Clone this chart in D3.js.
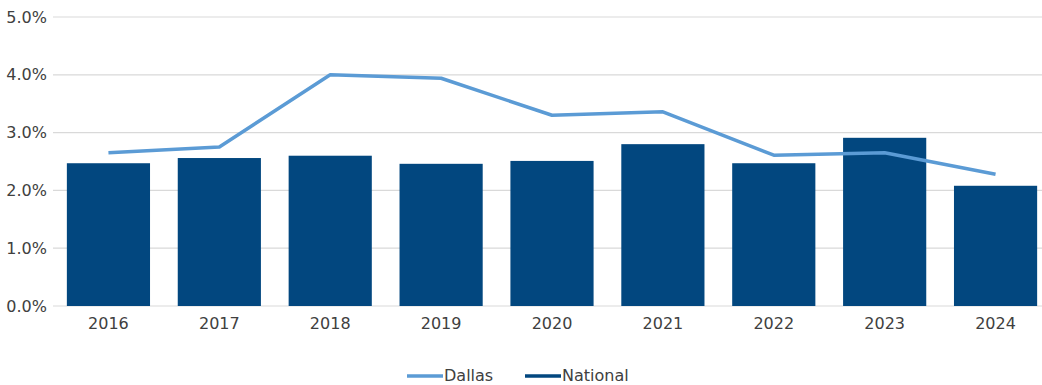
<!DOCTYPE html>
<html>
<head>
<meta charset="utf-8">
<script src="https://cdn.jsdelivr.net/npm/d3@7"></script>
<style>
  body { margin: 0; background: #fff; }
  text { font-family: "DejaVu Sans", sans-serif; fill: #404040; }
</style>
</head>
<body>
<div id="viz"></div>
<script>
var width = 1042, height = 385;

// data
var years = ["2016", "2017", "2018", "2019", "2020", "2021", "2022", "2023", "2024"];
var national = [2.47, 2.56, 2.60, 2.46, 2.51, 2.80, 2.47, 2.91, 2.08];
var dallas = [2.65, 2.75, 4.00, 3.94, 3.30, 3.36, 2.61, 2.65, 2.28];
var yTicks = [0, 1, 2, 3, 4, 5];

var svg = d3.select("#viz")
  .append("svg")
    .attr("width", width)
    .attr("height", height);

var x = d3.scaleBand()
  .domain(years)
  .range([53, 1051])
  .paddingInner(0.25)
  .paddingOuter(0.125);

var y = d3.scaleLinear()
  .domain([0, 5])
  .range([306, 17]);

// gridlines
svg.selectAll("line.grid")
  .data(yTicks)
  .enter()
  .append("line")
    .attr("class", "grid")
    .attr("x1", 53)
    .attr("x2", width)
    .attr("y1", function (d) { return y(d); })
    .attr("y2", function (d) { return y(d); })
    .attr("stroke", "#d9d9d9")
    .attr("stroke-width", 1.2);

// y labels
svg.selectAll("text.ylab")
  .data(yTicks)
  .enter()
  .append("text")
    .attr("class", "ylab")
    .attr("x", 47)
    .attr("y", function (d) { return y(d); })
    .attr("dy", "0.35em")
    .attr("text-anchor", "end")
    .style("font-size", "16px")
    .text(function (d) { return d.toFixed(1) + "%"; });

// bars
svg.selectAll("rect.bar")
  .data(national)
  .enter()
  .append("rect")
    .attr("class", "bar")
    .attr("x", function (d, i) { return x(years[i]); })
    .attr("y", function (d) { return y(d); })
    .attr("width", x.bandwidth())
    .attr("height", function (d) { return y(0) - y(d); })
    .attr("fill", "#02477f");

// x labels
svg.selectAll("text.xlab")
  .data(years)
  .enter()
  .append("text")
    .attr("class", "xlab")
    .attr("x", function (d) { return x(d) + x.bandwidth() / 2; })
    .attr("y", 329)
    .attr("text-anchor", "middle")
    .style("font-size", "16px")
    .text(function (d) { return d; });

// dallas line
var line = d3.line()
  .x(function (d, i) { return x(years[i]) + x.bandwidth() / 2; })
  .y(function (d) { return y(d); });

svg.append("path")
  .datum(dallas)
  .attr("d", line)
  .attr("fill", "none")
  .attr("stroke", "#5b9bd5")
  .attr("stroke-width", 3.5)
  .attr("stroke-linejoin", "round");

// legend
var legend = [
  { name: "Dallas", color: "#5b9bd5", x: 407 },
  { name: "National", color: "#02477f", x: 525 }
];
var lg = svg.selectAll("g.legend")
  .data(legend)
  .enter()
  .append("g")
    .attr("class", "legend")
    .attr("transform", function (d) { return "translate(" + d.x + ",375)"; });
lg.append("line")
  .attr("x1", 0)
  .attr("x2", 36)
  .attr("y1", 1)
  .attr("y2", 1)
  .attr("stroke", function (d) { return d.color; })
  .attr("stroke-width", 3.5);
lg.append("text")
  .attr("x", 37)
  .attr("dy", "0.35em")
  .style("font-size", "16px")
  .text(function (d) { return d.name; });
</script>
</body>
</html>
